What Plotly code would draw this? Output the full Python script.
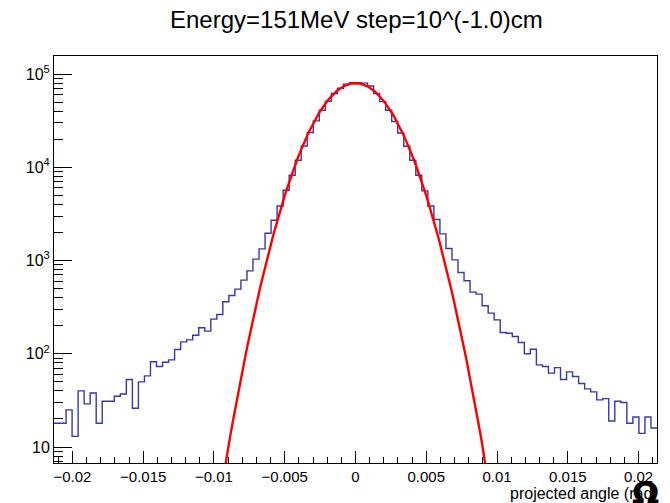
import numpy as np
import plotly.graph_objects as go

# ---- data ----
x_min = -0.0213
x_max = 0.0213
n_bins = 100
counts = [18, 18, 25, 13, 40, 29, 38, 18, 31, 31,
          35, 37, 53, 26, 50, 58, 82, 73, 81, 86,
          111, 134, 141, 158, 190, 175, 235, 264, 361, 422,
          493, 616, 774, 1035, 1334, 1963, 2700, 3843, 5675, 8222,
          11900, 16930, 23560, 31400, 40900, 51100, 61800, 70400, 77800, 80900,
          80900, 79800, 74500, 61800, 50600, 40900, 31000, 23300, 16800, 11900,
          8220, 5580, 3843, 2750, 1930, 1345, 1016, 744, 606, 458,
          436, 327, 273, 231, 169, 166, 153, 132, 100, 112,
          76, 73, 62, 71, 53, 64, 57, 48, 42, 39,
          32, 33, 19, 31, 30, 18, 21, 14, 21, 16]
# Gaussian fit parameters
fit_const = 79800.0
fit_mean = 0.0
fit_sigma = 0.00212

x_tick_vals = [-0.02, -0.015, -0.01, -0.005, 0, 0.005, 0.01, 0.015, 0.02]
x_tick_text = ["\u22120.02", "\u22120.015", "\u22120.01", "\u22120.005", "0",
               "0.005", "0.01", "0.015", "0.02"]
y_tick_vals = [10, 100, 1000, 10000, 100000]
y_tick_text = ["10", "10<sup>2</sup>", "10<sup>3</sup>", "10<sup>4</sup>", "10<sup>5</sup>"]
y_min, y_max = 6.74, 1.56e5

title_text = "Energy=151MeV step=10^(-1.0)cm"
x_title = "projected angle (rad)"

# ---- build ----
edges = np.linspace(x_min, x_max, n_bins + 1)
step_y = list(counts) + [counts[-1]]

xf = np.linspace(x_min, x_max, 400)
yf = fit_const * np.exp(-0.5 * ((xf - fit_mean) / fit_sigma) ** 2)

minor_y = [m * 10 ** k for k in range(0, 6) for m in range(2, 10)
           if y_min <= m * 10 ** k <= y_max]

fig = go.Figure()
fig.add_trace(go.Scatter(x=edges, y=step_y, mode="lines", line_shape="hv",
                         line=dict(color="#3838aa", width=1.4),
                         showlegend=False, hoverinfo="skip"))
fig.add_trace(go.Scatter(x=xf, y=yf, mode="lines",
                         line=dict(color="#ff0000", width=2.4),
                         showlegend=False, hoverinfo="skip"))
# invisible trace on the minor-tick overlay axis
fig.add_trace(go.Scatter(x=[x_min], y=[100], yaxis="y2", mode="markers",
                         marker=dict(opacity=0), showlegend=False, hoverinfo="skip"))

font_main = "Liberation Sans, Arial, Helvetica, sans-serif"
plot_h = 503 - 56 - 40

fig.update_layout(
    width=670, height=503,
    margin=dict(l=54, r=13, t=56, b=40, autoexpand=False),
    paper_bgcolor="white", plot_bgcolor="white",
    font=dict(family=font_main, color="black"),
    xaxis=dict(range=[x_min, x_max], showgrid=False, zeroline=False, automargin=False,
               showline=True, linecolor="black", linewidth=1, mirror=True,
               tickvals=x_tick_vals, ticktext=x_tick_text,
               ticks="inside", ticklen=12, tickcolor="black", tickwidth=1,
               tickfont=dict(size=15),
               minor=dict(ticks="inside", ticklen=6, dtick=0.001,
                          tickcolor="black", tickwidth=1, showgrid=False)),
    yaxis=dict(type="log", range=[np.log10(y_min), np.log10(y_max)],
               showgrid=False, zeroline=False, automargin=False,
               showline=True, linecolor="black", linewidth=1, mirror=True,
               tickvals=y_tick_vals, ticktext=y_tick_text,
               ticks="inside", ticklen=18, tickcolor="black", tickwidth=1,
               tickfont=dict(size=16)),
    yaxis2=dict(type="log", range=[np.log10(y_min), np.log10(y_max)],
                overlaying="y", side="left", showgrid=False, zeroline=False,
                automargin=False,
                showline=False, tickvals=minor_y, showticklabels=False,
                ticks="inside", ticklen=9, tickcolor="black", tickwidth=1),
)

fig.add_annotation(text=title_text, xref="paper", yref="paper",
                   x=0.502, y=1 + (56 - 19) / plot_h,
                   xanchor="center", yanchor="middle", showarrow=False,
                   font=dict(size=24, family=font_main))
fig.add_annotation(text=x_title, xref="paper", yref="paper", x=1.005,
                   y=-(493 - 463) / plot_h,
                   xanchor="right", yanchor="middle", showarrow=False,
                   font=dict(size=16, family=font_main))
fig.add_annotation(text="<b>\u03a9</b>", xref="paper", yref="paper",
                   x=(645 - 54) / (670 - 54 - 13), y=-(493 - 463) / plot_h,
                   xanchor="center", yanchor="middle", showarrow=False,
                   font=dict(size=32, family="DejaVu Sans, sans-serif"))

fig.write_html("out.html", config={"displayModeBar": False},
               post_script="document.body.style.margin='0';document.body.style.padding='0';")
